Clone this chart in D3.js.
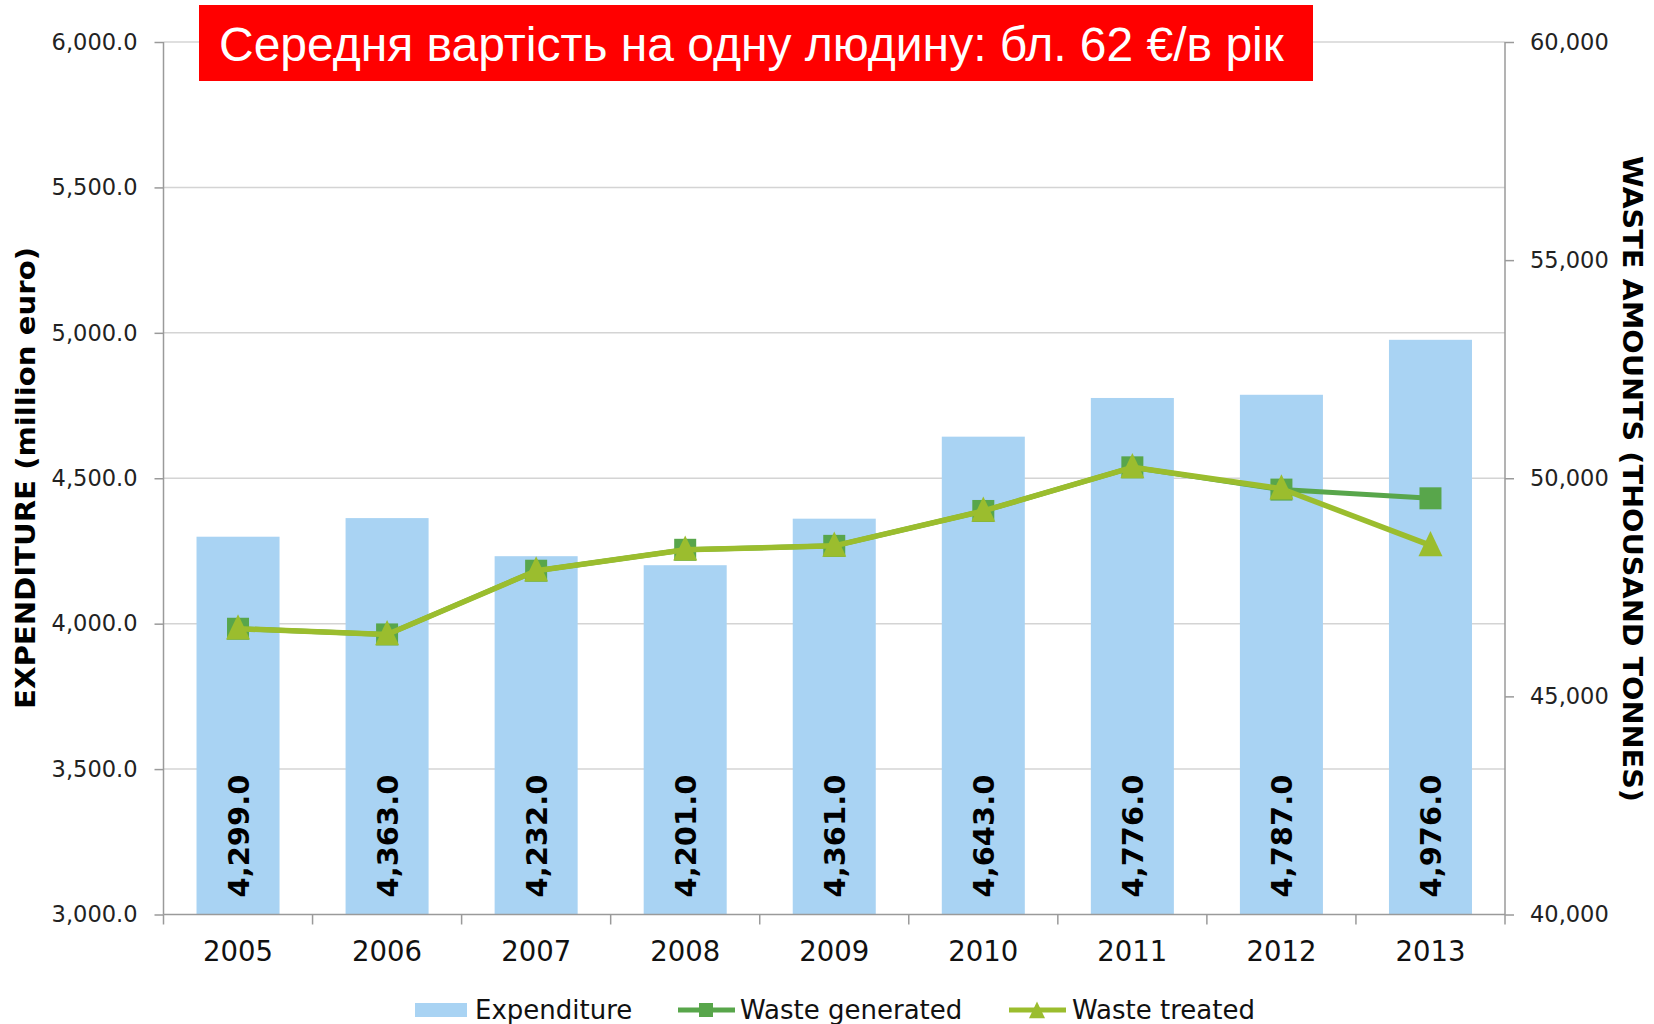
<!DOCTYPE html>
<html><head><meta charset="utf-8">
<script src="https://cdn.jsdelivr.net/npm/d3@7"></script>
<style>
html,body{margin:0;padding:0;background:#fff;}
svg{display:block;}
</style></head>
<body>
<script>
const years = ["2005","2006","2007","2008","2009","2010","2011","2012","2013"];
const expenditure = [4299, 4363, 4232, 4201, 4361, 4643, 4776, 4787, 4976];
const wasteGenerated = [46550, 46420, 47880, 48360, 48450, 49250, 50250, 49740, 49540];
const wasteTreated = [46550, 46420, 47880, 48360, 48450, 49250, 50250, 49760, 48460];
const leftTicks = [3000, 3500, 4000, 4500, 5000, 5500, 6000];
const rightTicks = [40000, 45000, 50000, 55000, 60000];
const titleText = "Середня вартість на одну людину: бл. 62 €/в рік";
const leftTitle = "EXPENDITURE (million euro)";
const rightTitle = "WASTE AMOUNTS (THOUSAND TONNES)";
const legendLabels = ["Expenditure", "Waste generated", "Waste treated"];

const W = 1654, H = 1024;
const L = 163.5, R = 1505, T = 42, B = 914.5;
const cBar = "#a9d3f3", cGen = "#58a64b", cTre = "#9bbd2e";
const font = "'DejaVu Sans', Verdana, sans-serif";

const svg = d3.select("body").append("svg").attr("width", W).attr("height", H);

const x = d3.scaleBand().domain(years).range([L, R]).paddingInner(0.443).paddingOuter(0.2215);
const yL = d3.scaleLinear().domain([3000, 6000]).range([B, T]);
const yR = d3.scaleLinear().domain([40000, 60000]).range([B, T]);
const cx = d => x(d) + x.bandwidth() / 2;

// gridlines
svg.append("g").selectAll("line").data(leftTicks.filter(t => t > 3000)).join("line")
  .attr("x1", L).attr("x2", R).attr("y1", d => yL(d)).attr("y2", d => yL(d))
  .attr("stroke", "#d4d4d4").attr("stroke-width", 1.5);

// bars
svg.append("g").selectAll("rect").data(expenditure).join("rect")
  .attr("x", (d, i) => x(years[i])).attr("width", x.bandwidth())
  .attr("y", d => yL(d)).attr("height", d => yL(3000) - yL(d))
  .attr("fill", cBar);

// bar labels
svg.append("g").selectAll("text").data(expenditure).join("text")
  .attr("transform", (d, i) => `translate(${cx(years[i]) + 10.5},${B - 17}) rotate(-90)`)
  .attr("font-family", font).attr("font-weight", "bold").attr("font-size", 29)
  .attr("fill", "#000")
  .text(d => d3.format(",.1f")(d));

// axes
const axisColor = "#9a9a9a";
const gL = svg.append("g").attr("transform", `translate(${L},0)`)
  .call(d3.axisLeft(yL).tickValues(leftTicks).tickFormat(d3.format(",.1f")).tickSize(9).tickPadding(17));
const gR = svg.append("g").attr("transform", `translate(${R},0)`)
  .call(d3.axisRight(yR).tickValues(rightTicks).tickFormat(d3.format(",d")).tickSize(9).tickPadding(16));
[gL, gR].forEach(g => {
  g.select(".domain").attr("stroke", axisColor).attr("stroke-width", 1.5).attr("d", `M0,${T}V${B}`);
  g.selectAll(".tick line").attr("stroke", axisColor).attr("stroke-width", 1.5);
  g.selectAll(".tick text").attr("font-family", font).attr("font-size", 22.5).attr("fill", "#222");
});

// x axis
const gX = svg.append("g").attr("transform", `translate(0,${B})`)
  .call(d3.axisBottom(x).tickSize(0).tickPadding(27));
gX.select(".domain").attr("stroke", axisColor).attr("stroke-width", 1.5).attr("d", `M${L},0H${R}`);
gX.selectAll(".tick text").attr("font-family", font).attr("font-size", 27.5).attr("fill", "#111");
const step = x.step();
svg.append("g").selectAll("line").data(d3.range(years.length + 1)).join("line")
  .attr("x1", i => L + i * step).attr("x2", i => L + i * step)
  .attr("y1", B).attr("y2", B + 10).attr("stroke", axisColor).attr("stroke-width", 1.5);

// lines
const lineGen = d3.line().x((d, i) => cx(years[i])).y(d => yR(d));
svg.append("path").datum(wasteGenerated).attr("d", lineGen)
  .attr("fill", "none").attr("stroke", cGen).attr("stroke-width", 5).attr("stroke-linejoin", "round");
svg.append("g").selectAll("rect").data(wasteGenerated).join("rect")
  .attr("x", (d, i) => cx(years[i]) - 11).attr("y", d => yR(d) - 11)
  .attr("width", 22).attr("height", 22).attr("fill", cGen);
svg.append("path").datum(wasteTreated).attr("d", lineGen)
  .attr("fill", "none").attr("stroke", cTre).attr("stroke-width", 5.5).attr("stroke-linejoin", "round");
const tri = (px, py, s) => `M${px},${py - s * 0.6}L${px + s / 2},${py + s * 0.45}L${px - s / 2},${py + s * 0.45}Z`;
svg.append("g").selectAll("path").data(wasteTreated).join("path")
  .attr("d", (d, i) => tri(cx(years[i]), yR(d), 24)).attr("fill", cTre);

// axis titles
svg.append("text").attr("transform", `translate(35,478) rotate(-90)`)
  .attr("text-anchor", "middle").attr("font-family", font).attr("font-weight", "bold")
  .attr("font-size", 26).attr("textLength", 462).attr("lengthAdjust", "spacingAndGlyphs")
  .attr("fill", "#000").text(leftTitle);
svg.append("text").attr("transform", `translate(1623,479) rotate(90)`)
  .attr("text-anchor", "middle").attr("font-family", font).attr("font-weight", "bold")
  .attr("font-size", 26).attr("textLength", 646).attr("lengthAdjust", "spacingAndGlyphs")
  .attr("fill", "#000").text(rightTitle);

// title box
svg.append("rect").attr("x", 199).attr("y", 5).attr("width", 1114).attr("height", 76).attr("fill", "#ff0000");
svg.append("text").attr("x", 219).attr("y", 61).attr("font-family", "'Liberation Sans', Arial, sans-serif")
  .attr("font-size", 48).attr("fill", "#fff").text(titleText);

// legend
const lg = svg.append("g").attr("font-family", font).attr("font-size", 26).attr("fill", "#111");
const ly = 1010;
lg.append("rect").attr("x", 415).attr("y", ly - 7).attr("width", 52).attr("height", 14).attr("fill", cBar);
lg.append("text").attr("x", 475).attr("y", ly + 9).text(legendLabels[0]);
lg.append("line").attr("x1", 678).attr("x2", 735).attr("y1", ly).attr("y2", ly).attr("stroke", cGen).attr("stroke-width", 5);
lg.append("rect").attr("x", 699).attr("y", ly - 7).attr("width", 14).attr("height", 14).attr("fill", cGen);
lg.append("text").attr("x", 740).attr("y", ly + 9).text(legendLabels[1]);
lg.append("line").attr("x1", 1009).attr("x2", 1066).attr("y1", ly).attr("y2", ly).attr("stroke", cTre).attr("stroke-width", 5);
lg.append("path").attr("d", tri(1037, ly + 1, 16)).attr("fill", cTre);
lg.append("text").attr("x", 1072).attr("y", ly + 9).text(legendLabels[2]);
</script>
</body></html>
